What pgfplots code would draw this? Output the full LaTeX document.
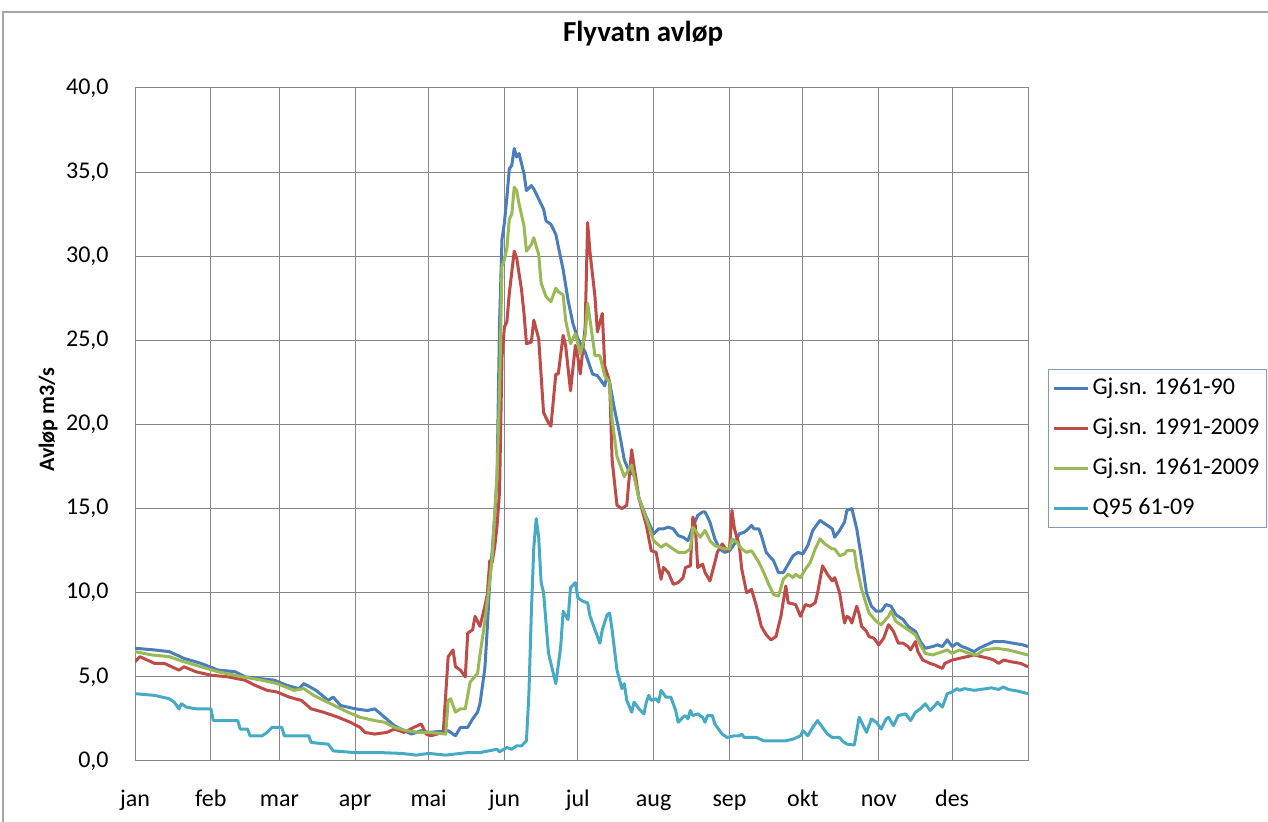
\documentclass[border=0pt]{standalone}
\usepackage{fontspec}
\setmainfont{Carlito}
\usepackage{pgfplots}
\pgfplotsset{compat=1.18}
\definecolor{sBlue}{HTML}{4A7EBB}
\definecolor{sRed}{HTML}{BE4B48}
\definecolor{sGreen}{HTML}{98B954}
\definecolor{sCyan}{HTML}{46AAC5}
\definecolor{gridgray}{HTML}{868686}
\definecolor{legframe}{HTML}{7F9DB9}
\begin{document}
\begin{tikzpicture}
\useasboundingbox (0,0) rectangle (634pt,411pt);
\draw[color=gray!70, line width=0.6pt] (1.5pt,0pt) -- (1.5pt,405pt) -- (634pt,405pt);
\begin{axis}[
  at={(67.5pt,30.5pt)}, anchor=south west,
  scale only axis, width=446.5pt, height=336.5pt,
  xmin=0, xmax=365, ymin=0, ymax=40,
  xtick={0,31,59,90,120,151,181,212,243,273,304,334,365},
  xticklabels={jan,feb,mar,apr,mai,jun,jul,aug,sep,okt,nov,des,{}},
  ytick={0,5,...,40},
  /pgf/number format/.cd, assume math mode=true, use comma, fixed, fixed zerofill, precision=1,
  /pgfplots/.cd,
  major tick length=0pt,
  grid=major,
  grid style={gridgray, line width=0.5pt},
  axis line style={gridgray, line width=0.5pt},
  ticklabel style={font=\fontsize{12}{14}\selectfont, text=black},
  yticklabel style={anchor=east, inner sep=0pt, xshift=-13pt},
  xticklabel style={anchor=base, inner sep=0pt, yshift=-23pt},
  title={Flyvatn avløp},
  title style={at={(axis description cs:0.5689,1.0505)}, anchor=base, inner sep=0pt, font=\fontsize{14.5}{17}\selectfont\bfseries},
  ylabel={Avløp m3/s},
  ylabel style={at={(axis description cs:-0.0974,0.507)}, anchor=center, rotate=0, inner sep=0pt, font=\fontsize{11}{13}\selectfont\bfseries},
  legend cell align=left,
  legend style={at={(axis description cs:1.0224,0.5825)}, anchor=north west,
    draw=legframe, line width=0.5pt, inner xsep=2pt, inner ysep=2pt,
    font=\fontsize{12}{14}\selectfont, row sep=5pt,
    nodes={inner sep=1.5pt, text height=9pt, text depth=3pt}},
  legend image code/.code={\draw[#1, line width=1.5pt] (0pt,0pt) -- (17pt,0pt);},
  every axis plot/.append style={line width=1.5pt, line join=round},
]
\addplot[sBlue, mark=none] coordinates {
(0,6.7)(4,6.65)(8,6.6)(14,6.5)(20,6.1)(27,5.8)(34,5.4)(38,5.35)(41,5.3)(45,5.0)(51,4.9)(57,4.8)(62,4.5)(67,4.3)(69,4.6)(74,4.2)(79,3.6)(81,3.8)(84,3.3)(90,3.1)(95,3.0)(98,3.1)(102,2.6)(106,2.1)(110,1.8)(113,1.6)(117,1.8)(120,1.7)(128,1.8)(131,1.5)(133,2.0)(136,2.0)(138,2.5)(140,2.9)(141,3.4)(143,5.5)(144,7.9)(145,10.7)(146,12.5)(147,14.5)(148,17.0)(149,26.0)(150,31.0)(151,32.0)(152,33.5)(153,35.2)(154,35.4)(155,36.4)(156,35.9)(157,36.1)(159,34.9)(160,33.9)(162,34.2)(163,34.0)(165,33.4)(167,32.8)(168,32.1)(170,31.9)(172,31.3)(173,30.6)(175,29.2)(177,27.4)(179,26.0)(181,25.1)(184,24.3)(187,23.0)(189,22.9)(192,22.3)(193,23.0)(194,22.5)(196,20.9)(198,19.5)(200,17.9)(202,17.2)(204,17.0)(206,15.6)(209,14.5)(212,13.5)(214,13.8)(216,13.8)(218,13.9)(220,13.8)(222,13.4)(224,13.3)(226,13.1)(228,13.9)(230,14.6)(232,14.8)(233,14.8)(235,14.2)(237,13.2)(239,12.6)(241,12.4)(243,12.5)(245,12.9)(247,13.5)(249,13.6)(250,13.7)(252,14.0)(253,13.8)(255,13.8)(256,13.4)(258,12.4)(261,11.9)(263,11.2)(265,11.2)(267,11.7)(269,12.2)(271,12.4)(273,12.3)(275,12.8)(277,13.7)(280,14.3)(282,14.1)(285,13.8)(286,13.3)(288,13.7)(290,14.2)(291,14.9)(293,15.0)(295,13.8)(297,12.0)(299,10.0)(301,9.2)(303,8.9)(305,8.9)(307,9.3)(309,9.2)(311,8.7)(314,8.4)(316,8.0)(319,7.7)(321,7.1)(323,6.7)(326,6.8)(328,6.9)(330,6.8)(332,7.2)(334,6.8)(336,7.0)(338,6.8)(340,6.7)(343,6.5)(345,6.7)(348,6.9)(351,7.1)(355,7.1)(359,7.0)(363,6.9)(365,6.8)
};
\addlegendentry{Gj.sn. 1961-90}
\addplot[sRed, mark=none] coordinates {
(0,5.9)(2,6.2)(5,6.0)(8,5.8)(12,5.8)(18,5.4)(20,5.6)(25,5.3)(31,5.1)(38,5.0)(45,4.8)(49,4.5)(54,4.2)(58,4.1)(63,3.8)(68,3.6)(72,3.1)(77,2.9)(83,2.6)(88,2.3)(92,2.0)(94,1.7)(98,1.6)(103,1.7)(106,1.9)(110,1.7)(114,2.0)(117,2.2)(119,1.6)(121,1.5)(126,1.7)(128,6.2)(130,6.6)(131,5.6)(133,5.4)(135,5.0)(136,7.6)(138,7.8)(139,8.6)(141,8.0)(143,9.2)(144,9.9)(145,11.9)(146,11.8)(147,12.7)(148,14.0)(149,16.0)(150,24.0)(151,25.8)(152,26.1)(153,27.8)(155,30.3)(156,29.9)(158,28.0)(159,26.6)(160,24.8)(162,24.9)(163,26.2)(165,25.1)(167,20.7)(169,20.1)(170,19.9)(172,23.0)(173,23.0)(175,25.3)(176,24.7)(178,22.0)(180,24.7)(181,24.0)(182,23.0)(184,25.8)(185,32.0)(186,30.2)(188,27.6)(189,25.5)(191,26.6)(192,23.5)(194,22.5)(195,17.9)(197,15.2)(199,15.0)(201,15.2)(203,18.5)(204,17.5)(206,15.6)(209,14.0)(211,12.5)(213,12.4)(215,10.8)(216,11.5)(218,11.2)(220,10.5)(222,10.6)(224,10.9)(225,11.5)(227,11.6)(228,14.5)(229,14.0)(230,11.5)(232,11.7)(233,11.2)(235,10.7)(237,11.8)(238,12.4)(240,12.9)(242,12.5)(243,12.6)(244,14.9)(245,13.8)(247,12.8)(248,11.4)(250,10.0)(252,10.2)(254,9.2)(256,8.0)(258,7.5)(260,7.2)(262,7.4)(264,8.6)(266,10.4)(267,9.4)(270,9.3)(272,8.6)(274,9.3)(276,9.2)(278,9.4)(279,10.0)(281,11.6)(283,11.1)(285,10.7)(286,10.9)(288,10.0)(290,8.2)(291,8.6)(292,8.5)(293,8.2)(295,9.2)(296,8.7)(297,8.0)(299,7.7)(300,7.4)(302,7.3)(304,6.9)(306,7.3)(308,8.1)(310,7.7)(312,7.0)(314,7.0)(316,6.8)(317,6.6)(319,7.1)(320,6.5)(322,6.0)(325,5.8)(327,5.7)(330,5.5)(331,5.8)(334,6.0)(337,6.1)(340,6.2)(343,6.3)(346,6.2)(349,6.1)(351,6.0)(353,5.8)(355,6.0)(358,5.9)(362,5.8)(365,5.6)
};
\addlegendentry{Gj.sn. 1991-2009}
\addplot[sGreen, mark=none] coordinates {
(0,6.5)(7,6.3)(14,6.2)(20,5.9)(27,5.6)(34,5.3)(44,5.0)(52,4.8)(58,4.6)(65,4.2)(69,4.3)(73,3.9)(80,3.4)(87,2.9)(92,2.6)(98,2.4)(102,2.3)(106,2.0)(111,1.8)(116,1.7)(120,1.7)(127,1.6)(128,3.6)(129,3.7)(131,2.9)(133,3.1)(135,3.1)(136,3.9)(137,4.7)(140,5.2)(141,6.3)(143,8.3)(145,10.7)(146,12.1)(147,14.7)(148,17.0)(149,22.0)(150,29.4)(151,29.8)(152,30.5)(153,32.2)(154,32.5)(155,34.1)(156,33.9)(157,33.1)(159,31.8)(160,30.3)(162,30.7)(163,31.1)(165,30.1)(166,28.4)(168,27.6)(170,27.3)(172,28.1)(173,27.9)(175,27.7)(176,26.2)(178,24.8)(180,25.4)(182,24.2)(184,25.3)(185,27.2)(186,26.2)(188,24.1)(190,24.1)(192,22.9)(194,22.5)(195,20.3)(197,18.1)(200,16.9)(203,17.6)(204,16.9)(206,15.6)(209,14.4)(212,13.1)(215,12.7)(217,12.9)(220,12.6)(222,12.4)(225,12.4)(227,12.6)(228,13.9)(230,13.5)(231,13.3)(233,13.7)(235,13.1)(237,12.8)(239,12.7)(241,12.6)(243,12.6)(244,13.2)(246,13.0)(248,12.6)(250,12.4)(252,12.5)(255,11.8)(257,11.2)(259,10.5)(261,9.9)(263,9.8)(265,10.8)(267,11.1)(269,10.9)(270,11.1)(272,10.9)(274,11.4)(276,11.8)(278,12.6)(280,13.2)(282,12.9)(285,12.6)(286,12.6)(288,12.2)(290,12.3)(291,12.5)(294,12.5)(295,11.5)(297,10.2)(300,8.8)(303,8.3)(305,8.1)(308,8.6)(309,8.9)(311,8.3)(314,8.0)(317,7.7)(319,7.5)(321,6.9)(323,6.4)(326,6.3)(328,6.4)(332,6.6)(334,6.4)(337,6.6)(341,6.4)(344,6.3)(347,6.6)(352,6.7)(357,6.6)(365,6.3)
};
\addlegendentry{Gj.sn. 1961-2009}
\addplot[sCyan, mark=none] coordinates {
(0,4.0)(8,3.9)(14,3.7)(16,3.5)(18,3.1)(19,3.4)(21,3.2)(25,3.1)(31,3.1)(32,2.4)(42,2.4)(43,1.9)(46,1.9)(47,1.5)(52,1.5)(54,1.7)(56,2.0)(60,2.0)(61,1.5)(71,1.5)(72,1.1)(79,1.0)(81,0.6)(90,0.5)(100,0.5)(109,0.45)(115,0.35)(120,0.45)(127,0.35)(136,0.5)(141,0.5)(148,0.7)(149,0.55)(152,0.8)(154,0.7)(156,0.9)(158,0.9)(160,1.2)(161,4.0)(162,8.8)(163,12.7)(164,14.4)(165,13.3)(166,10.6)(167,10.0)(169,6.4)(171,5.2)(172,4.6)(174,6.8)(175,8.9)(177,8.4)(178,10.3)(180,10.6)(181,9.7)(183,9.5)(185,9.4)(186,8.6)(188,7.8)(190,7.0)(191,7.8)(193,8.7)(194,8.8)(195,7.8)(197,5.4)(199,4.3)(200,4.6)(201,3.6)(203,2.9)(204,3.5)(206,3.1)(208,2.8)(209,3.5)(210,3.9)(211,3.6)(213,3.7)(214,3.5)(215,4.2)(217,3.8)(219,3.8)(221,3.0)(222,2.3)(224,2.6)(225,2.7)(226,2.5)(227,3.0)(228,2.7)(230,2.8)(232,2.6)(233,2.3)(234,2.7)(236,2.7)(237,2.2)(240,1.6)(242,1.4)(245,1.5)(247,1.5)(248,1.6)(249,1.4)(254,1.4)(257,1.2)(261,1.2)(266,1.2)(269,1.3)(272,1.5)(273,1.8)(275,1.5)(277,2.0)(279,2.4)(281,2.0)(283,1.6)(285,1.4)(288,1.4)(289,1.2)(291,1.0)(294,0.95)(296,2.6)(297,2.3)(299,1.7)(301,2.5)(303,2.3)(305,1.9)(307,2.5)(308,2.6)(310,2.1)(312,2.7)(315,2.8)(317,2.4)(319,2.9)(321,3.1)(323,3.4)(325,3.0)(327,3.3)(328,3.5)(330,3.2)(332,4.0)(334,4.1)(336,4.3)(337,4.2)(339,4.3)(343,4.2)(348,4.3)(350,4.35)(353,4.25)(355,4.4)(357,4.25)(361,4.15)(365,4.0)
};
\addlegendentry{Q95 61-09}
\end{axis}
\end{tikzpicture}
\end{document}
